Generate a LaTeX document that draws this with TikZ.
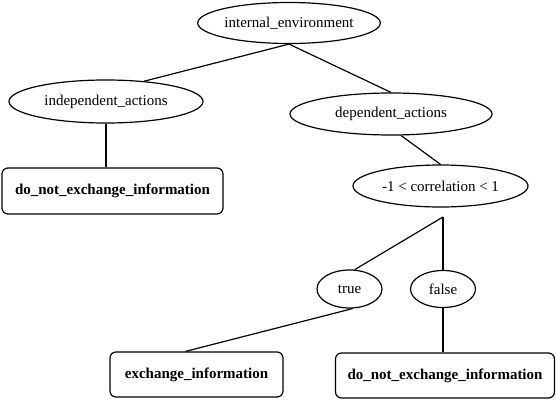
\documentclass[tikz,border=0pt]{standalone}
\usepackage{fontspec}
\setmainfont{Liberation Serif}
\usetikzlibrary{shapes.geometric}
\tikzset{
oval/.style 2 args={ellipse, draw=black, line width=1.2pt, inner sep=0pt,
                    minimum width=#1, minimum height=#2, font=\fontsize{15}{18}\selectfont},
leaf/.style 2 args={rectangle, rounded corners=6pt, draw=black, line width=1.2pt, inner sep=0pt,
                    minimum width=#1, minimum height=#2, font=\fontsize{15}{18}\selectfont\bfseries},
link/.style={black, line width=1.2pt}
}
\begin{document}
\begin{tikzpicture}[x=1pt,y=-1pt]
\useasboundingbox (0,0) rectangle (556,401);

% Ovals
\node[oval={177pt}{41pt}] (internal_env) at (289,23) {internal\_environment};
\node[oval={194pt}{43pt}] (indep) at (106,101.5) {independent\_actions};
\node[oval={202pt}{42pt}] (dep) at (391,114) {dependent\_actions};
\node[oval={175pt}{42pt}] (corr) at (440.5,186) {-1 < correlation < 1};
\node[oval={65pt}{38pt}] (true) at (349.5,289) {true};
\node[oval={65pt}{37pt}] (false) at (443,289) {false};

% Boxes
\node[leaf={221pt}{46pt}] (no_exch_a) at (112.5,191) {do\_not\_exchange\_information};
\node[leaf={173pt}{45pt}] (exch) at (196.5,374.5) {exchange\_information};
\node[leaf={219pt}{45pt}] (no_exch_b) at (445,375.5) {do\_not\_exchange\_information};

% Split point
\coordinate (split) at (443,217);

% Lines
\draw[link] (internal_env.south) -- (indep.28);
\draw[link] (internal_env.south) -- (dep.north);
\draw[link] (indep.south) -- (indep.south |- no_exch_a.north);
\draw[link] (dep.-65) -- (corr.north);
\draw[link] (split) -- (true.75);
\draw[link] (split) -- (false.north);
\draw[link] (true.-80) -- ([xshift=-11pt]exch.north);
\draw[link] (false.south) -- (false.south |- no_exch_b.north);

\end{tikzpicture}
\end{document}
